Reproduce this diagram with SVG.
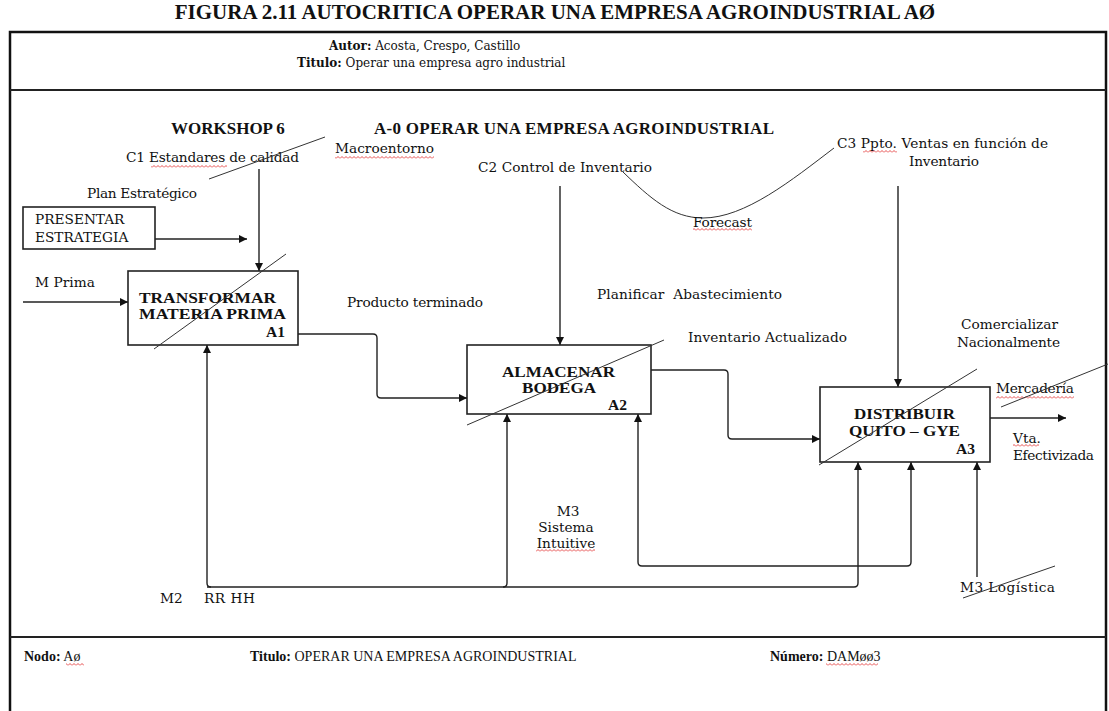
<svg xmlns="http://www.w3.org/2000/svg" width="1109" height="711" viewBox="0 0 1109 711">
<style>
  .t{font-family:"DejaVu Serif","Liberation Serif",serif;font-size:13.7px;fill:#111}
  .b{font-family:"Liberation Serif",serif;font-weight:bold;font-size:17px;fill:#111}
  .bx{font-family:"Liberation Serif",serif;font-weight:bold;font-size:15.5px;fill:#111}
  .h{font-family:"DejaVu Serif","Liberation Serif",serif;font-size:12px;fill:#111}
  .f{font-family:"Liberation Serif",serif;font-size:14px;fill:#111}
  .fb{font-weight:bold}
  .box{fill:#fff;stroke:#222;stroke-width:1.6}
  .c{fill:none;stroke:#222;stroke-width:1.4;stroke-linejoin:round}
  .s{stroke:#333;stroke-width:1;fill:none}
  .w{fill:url(#wave)}
  .frame{fill:none;stroke:#111;stroke-width:2.5}
  .sep{stroke:#222;stroke-width:2}
</style>
<defs>
  <marker id="ah" viewBox="0 0 10 10" refX="10" refY="5" markerWidth="9" markerHeight="8" markerUnits="userSpaceOnUse" orient="auto">
    <path d="M0,0 L10,5 L0,10 z" fill="#111"/>
  </marker>
  <marker id="ahs" viewBox="0 0 10 10" refX="10" refY="5" markerWidth="9" markerHeight="8" markerUnits="userSpaceOnUse" orient="auto-start-reverse">
    <path d="M0,0 L10,5 L0,10 z" fill="#111"/>
  </marker>
  <!-- red spell-check squiggle -->
  <pattern id="wave" width="4" height="3" patternUnits="userSpaceOnUse">
    <path d="M0,2.5 L2,0.5 L4,2.5" fill="none" stroke="#e02020" stroke-width="0.8"/>
  </pattern>
</defs>

<rect width="1109" height="711" fill="#fff"/>

<!-- caption -->
<text x="555" y="19" text-anchor="middle" font-family="Liberation Serif, serif" font-weight="bold" font-size="21" fill="#111">FIGURA 2.11 AUTOCRITICA OPERAR UNA EMPRESA AGROINDUSTRIAL AØ</text>

<!-- sheet frame -->
<g id="frame">
  <path class="frame" d="M10,712 V32 H1106 V712"/>
  <line class="sep" x1="10" y1="90" x2="1106" y2="90"/>
  <line class="sep" x1="10" y1="637" x2="1106" y2="637"/>
  <text class="h" x="329" y="50"><tspan class="fb">Autor:</tspan> Acosta, Crespo, Castillo</text>
  <text class="h" x="297" y="67"><tspan class="fb">Titulo:</tspan> Operar una empresa agro industrial</text>
  <text class="f" x="24" y="661"><tspan class="fb">Nodo:</tspan> Aø</text>
  <rect class="w" x="66" y="663" width="18" height="3"/>
  <text class="f" x="250" y="661"><tspan class="fb">Titulo:</tspan> OPERAR UNA EMPRESA AGROINDUSTRIAL</text>
  <text class="f" x="770" y="661"><tspan class="fb">Número:</tspan> DAMøø3</text>
  <rect class="w" x="826" y="663" width="52" height="3"/>
</g>

<!-- headings -->
<g id="headings">
  <text class="b" x="171" y="134">WORKSHOP 6</text>
  <text class="b" x="374" y="134" textLength="400">A-0 OPERAR UNA EMPRESA AGROINDUSTRIAL</text>
</g>

<!-- connectors -->
<g id="connectors">
  <path class="c" d="M259,169 V271" marker-end="url(#ah)"/>
  <path class="c" d="M155,239 H247" marker-end="url(#ah)"/>
  <path class="c" d="M23,302 H128" marker-end="url(#ah)"/>
  <path class="c" d="M298,334 H373 Q377,334 377,338 V394 Q377,398 381,398 H467" marker-end="url(#ah)"/>
  <path class="c" d="M560,186 V345" marker-end="url(#ah)"/>
  <path class="s" d="M623,172 C650,198 672,218 703,218 C745,218 792,180 834,148"/>
  <path class="c" d="M898,186 V387" marker-end="url(#ah)"/>
  <path class="c" d="M651,370 H724 Q728,370 728,374 V435 Q728,439 732,439 H820" marker-end="url(#ah)"/>
  <path class="c" d="M990,418 H1066" marker-end="url(#ah)"/>
  <path class="c" d="M211,587 Q207,587 207,583 V345" marker-end="url(#ah)"/>
  <path class="c" d="M207,587 H854 Q858,587 858,583 V462" marker-end="url(#ah)"/>
  <path class="c" d="M503,587 Q507,587 507,583 V414" marker-end="url(#ah)"/>
  <path class="c" d="M638,414 V562 Q638,566 642,566 H907 Q911,566 911,562 V462" marker-start="url(#ahs)" marker-end="url(#ahs)"/>
  <path class="c" d="M977,577 V462" marker-end="url(#ah)"/>
</g>

<!-- arrow labels -->
<g id="labels">
  <text class="t" x="126" y="162" textLength="173">C1 Estandares de calidad</text>
  <rect class="w" x="151" y="165" width="76" height="3"/>
  <line class="s" x1="209" y1="179" x2="325" y2="137"/>
  <text class="t" x="335" y="153" textLength="99">Macroentorno</text>
  <rect class="w" x="335" y="156" width="99" height="3"/>
  <text class="t" x="87" y="198" textLength="110">Plan Estratégico</text>
  <text class="t" x="35" y="287" textLength="60">M Prima</text>
  <text class="t" x="347" y="307" textLength="136">Producto terminado</text>
  <text class="t" x="478" y="172" textLength="174">C2 Control de Inventario</text>
  <text class="t" x="693" y="227" textLength="59">Forecast</text>
  <rect class="w" x="693" y="228" width="59" height="3"/>
  <text class="t" x="837" y="148" textLength="211">C3 Ppto. Ventas en función de</text>
  <rect class="w" x="863" y="150" width="34" height="3"/>
  <text class="t" x="909" y="166" textLength="70">Inventario</text>
  <text class="t" x="597" y="299" textLength="185" xml:space="preserve">Planificar  Abastecimiento</text>
  <text class="t" x="688" y="342" textLength="159">Inventario Actualizado</text>
  <text class="t" x="961" y="329" textLength="97">Comercializar</text>
  <text class="t" x="957" y="347" textLength="103">Nacionalmente</text>
  <text class="t" x="996" y="393" textLength="78">Mercadería</text>
  <rect class="w" x="996" y="396" width="78" height="3"/>
  <line class="s" x1="1001" y1="407" x2="1108" y2="364"/>
  <text class="t" x="1013" y="443">Vta.</text>
  <rect class="w" x="1013" y="444" width="26" height="3"/>
  <text class="t" x="1013" y="460" textLength="81">Efectivizada</text>
  <text class="t" x="568" y="516" text-anchor="middle">M3</text>
  <text class="t" x="566" y="532" text-anchor="middle">Sistema</text>
  <text class="t" x="566" y="548" text-anchor="middle">Intuitive</text>
  <rect class="w" x="536" y="549" width="59" height="3"/>
  <text class="t" x="960" y="592" textLength="95">M3 Logística</text>
  <line class="s" x1="963" y1="598" x2="1055" y2="566"/>
  <text class="t" x="160" y="603">M2</text>
  <text class="t" x="204" y="603" textLength="51">RR HH</text>
</g>

<!-- activity boxes -->
<g id="presentar-estrategia">
  <rect class="box" x="23" y="207" width="132" height="42"/>
  <text class="t" x="35" y="224" font-size="15.5">PRESENTAR</text>
  <text class="t" x="35" y="242" font-size="15.5">ESTRATEGIA</text>
</g>

<g id="a1">
  <rect class="box" x="128" y="271" width="170" height="74"/>
  <text class="bx" x="139" y="303" textLength="137" lengthAdjust="spacingAndGlyphs">TRANSFORMAR</text>
  <text class="bx" x="139" y="319" textLength="147" lengthAdjust="spacingAndGlyphs">MATERIA PRIMA</text>
  <text class="bx" x="285" y="337" text-anchor="end">A1</text>
  <line class="s" x1="154" y1="349" x2="286" y2="254"/>
</g>

<g id="a2">
  <rect class="box" x="467" y="345" width="184" height="69"/>
  <text class="bx" x="502" y="377" textLength="113" lengthAdjust="spacingAndGlyphs">ALMACENAR</text>
  <text class="bx" x="522" y="393" textLength="74" lengthAdjust="spacingAndGlyphs">BODEGA</text>
  <text class="bx" x="627" y="410" text-anchor="end">A2</text>
  <line class="s" x1="467" y1="425" x2="664" y2="340"/>
</g>

<g id="a3">
  <rect class="box" x="820" y="387" width="170" height="75"/>
  <text class="bx" x="854" y="419" textLength="101" lengthAdjust="spacingAndGlyphs">DISTRIBUIR</text>
  <text class="bx" x="849" y="436" textLength="111" lengthAdjust="spacingAndGlyphs">QUITO – GYE</text>
  <text class="bx" x="975" y="454" text-anchor="end">A3</text>
  <line class="s" x1="819" y1="465" x2="977" y2="369"/>
</g>
</svg>
